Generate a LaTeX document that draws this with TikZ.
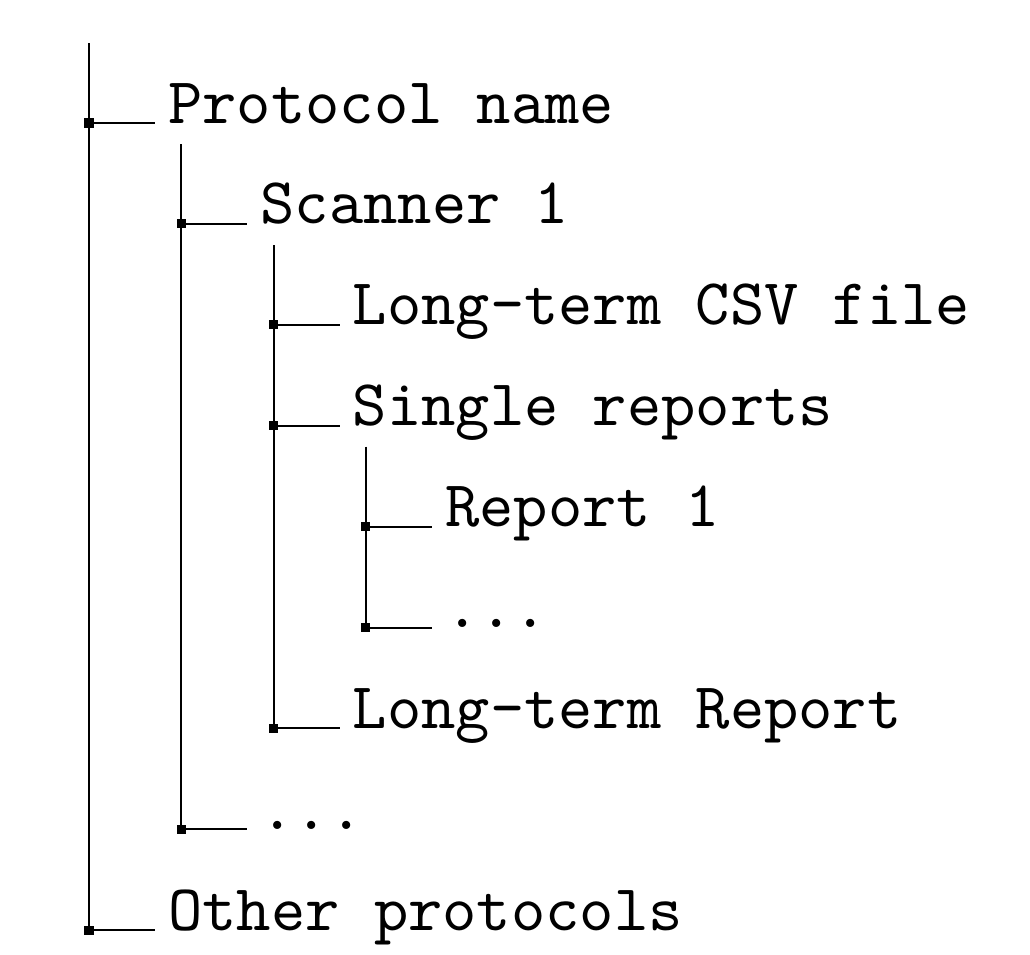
\documentclass[tikz,border=0pt]{standalone}
\usepackage{tikz}
\usetikzlibrary{positioning}
\tikzset{
  entry/.style={anchor=base west, inner xsep=1.84pt, inner ysep=0pt,
                font=\fontsize{10}{12}\selectfont\ttfamily},
  knot/.style={rectangle, fill=black, minimum size=1.4pt, inner sep=0pt},
  stem/.style={line width=0.3pt},
}

\begin{document}
\begin{tikzpicture}[x=0.1531pt, y=-0.1531pt]
\useasboundingbox (0,0) rectangle (1030,954);
% corners of the tree
\node[knot] (d-proto)    at (89,123)      {};
\node[knot] (d-scan)     at (181.3,223.9) {};
\node[knot] (d-csv)      at (273.6,324.8) {};
\node[knot] (d-single)   at (273.6,425.7) {};
\node[knot] (d-rep)      at (365.9,526.6) {};
\node[knot] (d-repmore)  at (365.9,627.5) {};
\node[knot] (d-ltrep)    at (273.6,728.4) {};
\node[knot] (d-scanmore) at (181.3,829.3) {};
\node[knot] (d-other)    at (89,930.2)    {};
% entries
\node[entry] (proto)    at (155,123)      {Protocol name};
\node[entry] (scan)     at (247.3,223.9)  {Scanner 1};
\node[entry] (csv)      at (339.6,324.8)  {Long-term CSV file};
\node[entry] (single)   at (339.6,425.7)  {Single reports};
\node[entry] (rep)      at (431.9,526.6)  {Report 1};
\node[entry] (repmore)  at (431.9,627.5)  {...};
\node[entry] (ltrep)    at (339.6,728.4)  {Long-term Report};
\node[entry] (scanmore) at (247.3,829.3)  {...};
\node[entry] (other)    at (155,930.2)    {Other protocols};
% tops of the stems
\coordinate (t-root)   at (89,43);
\coordinate (t-proto)  at (181.3,144);
\coordinate (t-scan)   at (273.6,245);
\coordinate (t-single) at (365.9,446.6);
\draw[stem] (t-root)   -- (d-other.center);
\draw[stem] (t-proto)  -- (d-scanmore.center);
\draw[stem] (t-scan)   -- (d-ltrep.center);
\draw[stem] (t-single) -- (d-repmore.center);
\draw[stem] (d-proto.center)    -- (proto.base west);
\draw[stem] (d-scan.center)     -- (scan.base west);
\draw[stem] (d-csv.center)      -- (csv.base west);
\draw[stem] (d-single.center)   -- (single.base west);
\draw[stem] (d-rep.center)      -- (rep.base west);
\draw[stem] (d-repmore.center)  -- (repmore.base west);
\draw[stem] (d-ltrep.center)    -- (ltrep.base west);
\draw[stem] (d-scanmore.center) -- (scanmore.base west);
\draw[stem] (d-other.center)    -- (other.base west);
\end{tikzpicture}
\end{document}
